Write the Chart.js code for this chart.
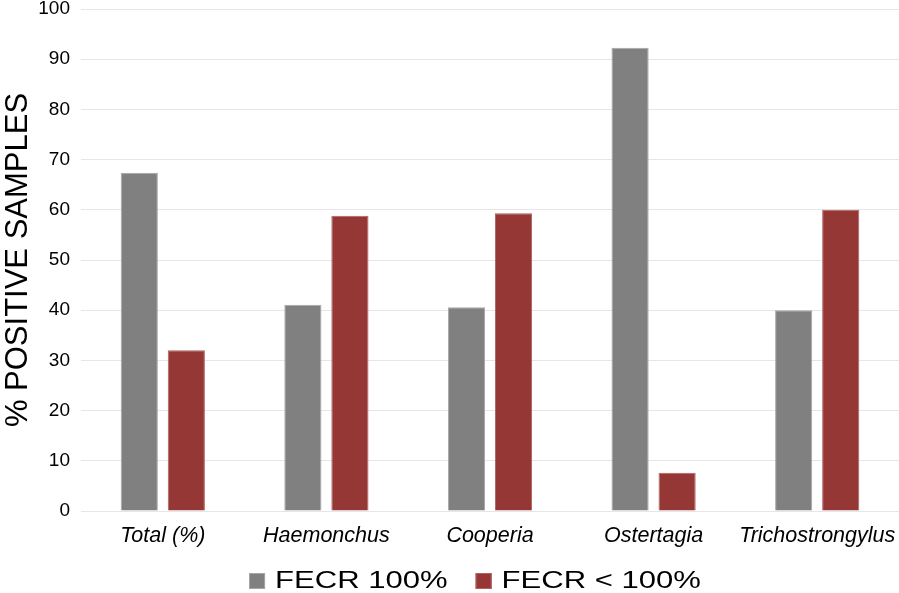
<!DOCTYPE html>
<html><head><meta charset="utf-8">
<script src="https://cdn.jsdelivr.net/npm/chart.js@4"></script>
<style>html,body{margin:0;padding:0;background:#fff}#wrap{width:899px;height:593px}</style>
</head><body><div id="wrap"><canvas id="c" width="899" height="593"></canvas></div>
<script>
const categories = ["Total (%)", "Haemonchus", "Cooperia", "Ostertagia", "Trichostrongylus"];
const fecr100 = [67.4, 41.1, 40.6, 92.3, 40.0];
const fecrLess100 = [32.0, 58.8, 59.3, 7.6, 60.0];
const seriesNames = ["FECR 100%", "FECR < 100%"];
const yTicks = [0, 10, 20, 30, 40, 50, 60, 70, 80, 90, 100];

const FONT = 'Liberation Sans, Arial, sans-serif';

// Bottom legend drawn from the chart's datasets (text stretched horizontally like the reference)
const bottomLegend = {
  id: 'bottomLegend',
  afterDraw(chart) {
    const ctx = chart.ctx;
    const sx = 1.35, fs = 23, box = 16, textGap = 26, itemGap = 28;
    ctx.save();
    ctx.font = fs + 'px ' + FONT;
    const items = chart.data.datasets.map(ds => ({ text: ds.label, fill: ds.backgroundColor, stroke: ds.borderColor, w: ctx.measureText(ds.label).width * sx }));
    const total = items.reduce((a, it) => a + textGap + it.w, 0) + itemGap * (items.length - 1);
    let x = 475 - total / 2;
    const baseY = chart.chartArea.bottom + 77;
    items.forEach(it => {
      ctx.fillStyle = it.fill;
      ctx.fillRect(x, baseY - 15, box, box);
      ctx.strokeStyle = it.stroke; ctx.lineWidth = 1;
      ctx.strokeRect(x + 0.5, baseY - 14.5, box - 1, box - 1);
      ctx.save();
      ctx.translate(x + textGap, baseY);
      ctx.scale(sx, 1);
      ctx.fillStyle = '#000';
      ctx.textBaseline = 'alphabetic';
      ctx.textAlign = 'left';
      ctx.fillText(it.text, 0, 0);
      ctx.restore();
      x += textGap + it.w + itemGap;
    });
    ctx.restore();
  }
};

new Chart(document.getElementById('c'), {
  type: 'bar',
  data: {
    labels: categories,
    datasets: [
      { label: seriesNames[0], data: fecr100, backgroundColor: '#808080', borderColor: '#a6a6a6', borderWidth: 1, barPercentage: 0.79, categoryPercentage: 0.575 },
      { label: seriesNames[1], data: fecrLess100, backgroundColor: '#953735', borderColor: '#b06060', borderWidth: 1, barPercentage: 0.79, categoryPercentage: 0.575 }
    ]
  },
  options: {
    responsive: false,
    animation: false,
    layout: { padding: { top: 9, right: 0, left: 0, bottom: 42 } },
    plugins: {
      tooltip: { enabled: false },
      legend: { display: false }
    },
    scales: {
      x: {
        grid: { display: false },
        border: { display: false },
        ticks: { font: { family: FONT, size: 21.5, style: 'italic' }, color: '#000', padding: 4, maxRotation: 0 },
        afterFit: (s) => { s.height = 40; s.paddingLeft = 0; s.paddingRight = 0; }
      },
      y: {
        min: 0, max: 100,
        afterBuildTicks: (s) => { s.ticks = yTicks.map(v => ({ value: v })); },
        grid: { color: '#e6e6e6', drawTicks: false },
        border: { display: false },
        ticks: { font: { family: FONT, size: 19 }, color: '#000', padding: 11 },
        title: { display: true, text: '% POSITIVE SAMPLES', font: { family: FONT, size: 31 }, color: '#000', padding: { top: 0, bottom: 1 } },
        afterFit: (s) => { s.width = 81; s.paddingTop = 0; s.paddingBottom = 0; }
      }
    }
  },
  plugins: [bottomLegend]
});
</script></body></html>
